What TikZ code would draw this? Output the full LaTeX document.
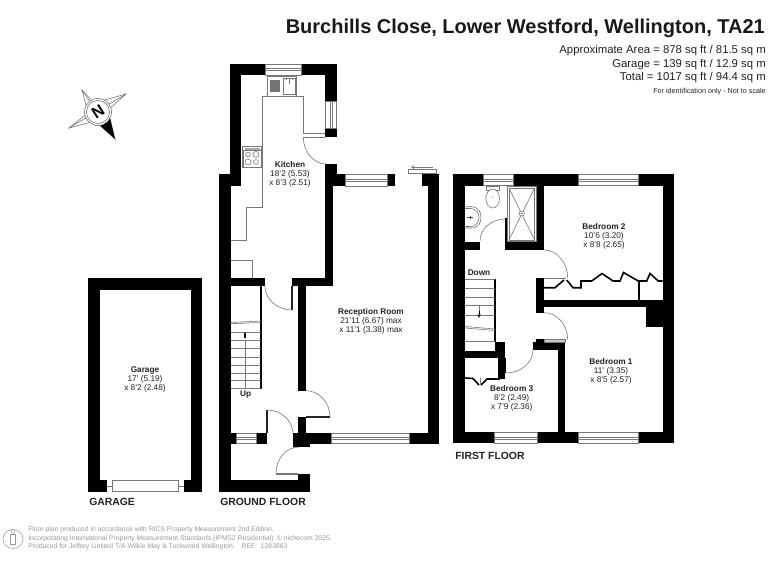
\documentclass[tikz,border=0pt]{standalone}
\usepackage{fontspec}
\setmainfont{Liberation Sans}
\usetikzlibrary{calc,arrows.meta}
\definecolor{fg}{HTML}{222222}
\definecolor{ln}{HTML}{777777}
\definecolor{foot}{HTML}{999999}
\newcommand\W[4]{\fill[black] (#1,#2) rectangle (#3,#4);}
\newcommand\WinH[4]{\draw[fitting,fill=white] (#1,#2) rectangle (#3,#4); \draw[fitting] (#1,{(#2+#4)/2-1}) -- (#3,{(#2+#4)/2-1}) (#1,{(#2+#4)/2+1}) -- (#3,{(#2+#4)/2+1});}
\newcommand\WinV[4]{\draw[fitting,fill=white] (#1,#2) rectangle (#3,#4); \draw[fitting] ({(#1+#3)/2-1},#2) -- ({(#1+#3)/2-1},#4) ({(#1+#3)/2+1},#2) -- ({(#1+#3)/2+1},#4);}
\newcommand\QArc[3]{\draw[fitting] (#1) .. controls ($(#1)!0.55!(#2)$) and ($(#3)!0.55!(#2)$) .. (#3);}
\newcommand\RoomLabel[6]{\node[roomhead] (#1) at (#2,#3) {#4}; \node[roomtext] (#1a) at (#2,#3+9) {#5}; \node[roomtext] (#1b) at (#2,#3+18) {#6};}
\tikzset{
  x=0.75pt,y=-0.75pt,
  fitting/.style={draw=ln,line width=0.45pt},
  leaf/.style={draw=black!85,line width=1.2pt},
  thick wall/.style={draw=black,line width=1.5pt,line join=miter},
  roomhead/.style={inner sep=0pt,text=fg,font=\fontsize{6.2}{7}\selectfont\bfseries},
  roomtext/.style={inner sep=0pt,text=fg,font=\fontsize{6.2}{7}\selectfont},
  floorlabel/.style={inner sep=0pt,anchor=west,text=fg,font=\fontsize{7.8}{9}\selectfont\bfseries},
  infotext/.style={inner sep=0pt,anchor=east,text=fg,font=\fontsize{8.5}{10}\selectfont},
  foottext/.style={inner sep=0pt,anchor=west,text=foot,font=\fontsize{5.1}{6}\selectfont},
}
\begin{document}
\begin{tikzpicture}
\useasboundingbox (0,0) rectangle (768,576);
\fill[white] (0,0) rectangle (768,576);

% ---------- title
\node[inner sep=0pt,anchor=east,text=black!90,font=\fontsize{15}{18}\selectfont\bfseries] (title) at (765,28) {Burchills Close, Lower Westford, Wellington, TA21};
\node[infotext] (area) at (766,51) {Approximate Area = 878 sq ft / 81.5 sq m};
\node[infotext] (garea) at (766,64.5) {Garage = 139 sq ft / 12.9 sq m};
\node[infotext] (total) at (766,78) {Total = 1017 sq ft / 94.4 sq m};
\node[infotext,font=\fontsize{5.4}{7}\selectfont] (ident) at (766,92) {For identification only - Not to scale};

% ---------- compass
\begin{scope}[shift={(98,112)}]
  \draw[fitting,fill=white] (-16,-22) -- (-4,-9) -- (28,-18) -- (10,-2) -- (17,27) -- (-3,9) -- (-29,16) -- (-10,1) -- cycle;
  \draw[fitting] (-16,-22) -- (17,27) (28,-18) -- (-29,16);
  \fill[black] (-3,9) -- (10,-2) -- (17,27) -- cycle;
  \draw[fitting,fill=white] (0,0) circle (13.5);
  \draw[fitting] (0,0) circle (11.5);
  \node[inner sep=0pt,rotate=33,font=\fontsize{12}{14}\selectfont\bfseries] (north) at (0,0) {N};
\end{scope}

% ---------- garage
\W{88.3}{278.3}{202.3}{290}
\W{88.3}{278.3}{100}{491.7}
\W{191}{278.3}{202.3}{491.7}
\W{88.3}{480}{107}{491.7}
\W{184}{480}{202.3}{491.7}
\draw[fitting] (107,486) -- (112.3,486) (178.7,486) -- (184,486);
\draw[fitting,fill=white] (112.3,480) rectangle (178.7,491.7);
\RoomLabel{garage}{145}{370}{Garage}{17' (5.19)}{x 8'2 (2.48)}
\node[floorlabel] (garagelbl) at (89,502) {GARAGE};

% ---------- ground floor walls
\W{230}{64}{336.7}{75}
\W{230}{64}{241}{186}
\W{219}{174}{241}{186}
\W{219}{174}{230.5}{491.5}
\W{325}{64}{336.7}{137}
\W{325}{164}{333}{286}
\W{325}{164}{336.7}{186}
\W{336.7}{174}{395}{186}
\W{422}{174}{439}{186}
\W{428}{174}{439}{443.5}
\W{230}{278}{265}{286}
\W{292}{278}{333}{286}
\W{298}{278}{306}{390.5}
\W{298}{417}{306}{446}
\W{293}{433}{439}{443.5}
\W{293}{443}{309.5}{447}
\W{230}{433}{266.5}{443.5}
\W{219}{480}{309.5}{491.5}
\W{298}{474}{309.5}{491.5}

% windows
\WinH{265}{64}{301}{75}
\WinV{325}{101}{336.7}{128}
\WinH{345}{174}{387}{186}
\WinH{331}{433}{409}{443.5}
\WinH{236}{433}{256}{443.5}

% sliding door symbol
\draw[fitting,fill=white] (408.7,169.3) rectangle (436,173.3);
\draw[fitting,-{Straight Barb[length=2pt,width=2.5pt]}] (433,167) -- (411,167);

% door leaves
\draw[leaf] (292,286) -- (292,310);
\draw[leaf] (306,417) -- (330,417);
\draw[leaf] (267,410) -- (267,433);
\draw[fitting] (303.3,133) -- (325,133) (303.3,137) -- (325,137);
\draw[fitting] (276,473) -- (298,473) (276,474.2) -- (298,474.2);

\QArc{265,286}{265,310}{292,310}
\QArc{303.3,137}{303.3,164}{326,164}
\QArc{306,390.7}{330,390.7}{330,417}
\QArc{267,410}{293,410}{293,434}
\QArc{276,473}{276,447}{299,447}

% kitchen fittings
\draw[fitting] (241,207) (303.3,133) -- (303.3,96.7) -- (262.7,96.7) -- (262.7,207) -- (246.7,207) -- (246.7,240) -- (230.5,240);
\draw[fitting] (230.5,260.7) -- (252.7,260.7) -- (252.7,278);
\draw[fitting,fill=white] (267.7,76.7) rectangle (296.7,96);
\fill[black!55] (270,80) rectangle (280,92);
\draw[fitting] (283,78) rectangle (295,94.5);
\draw[fitting] (286,78) -- (286,80) (292,78) -- (292,80) (289,78) -- (289,84);
\draw[fitting,fill=white] (242.7,146.7) rectangle (261.7,167);
\fill[black!35] (245,147.5) rectangle (260,149.5);
\draw[fitting] (243.5,150) rectangle (261,167);
\draw[fitting] (248,154.5) circle (2.4) (256,154.5) circle (3) (248,162) circle (3) (256,162) circle (2.4);

% ground stairs
\draw[thick wall] (260.7,286) -- (260.7,388.5);
\foreach \yy in {332,340,348,357,365,373,380,388} \draw[fitting] (230.5,\yy) -- (260.7,\yy);
\draw[fitting] (230.5,322.5) -- (260.7,321) (230.5,323.7) -- (260.7,322.5);
\draw[fitting] (245,340) -- (245,388);
\draw[black,line width=0.8pt] (245,333) -- (245,338);
\node[roomhead] (up) at (245.7,395) {Up};

\RoomLabel{kitchen}{290}{165}{Kitchen}{18'2 (5.53)}{x 8'3 (2.51)}
\RoomLabel{reception}{371}{312}{Reception Room}{21'11 (6.67) max}{x 11'1 (3.38) max}
\node[floorlabel] (groundlbl) at (220,502) {GROUND FLOOR};

% ---------- first floor walls
\W{453.3}{174.3}{674}{185.7}
\W{453.3}{174.3}{465}{443.3}
\W{662.7}{174.3}{674}{443.3}
\W{453.3}{432.3}{674}{443.3}
\W{536.7}{185}{544}{250}
\W{465}{241.7}{480}{250}
\W{505}{241.7}{544}{250}
\W{536}{278.3}{543.5}{312.5}
\W{536}{300}{663}{307.3}
\W{646}{300}{663}{327.3}
\W{465}{350.7}{505}{358.3}
\W{495}{342}{505}{358.3}
\W{533}{342.3}{565}{350}
\W{536}{339}{544}{343}
\W{558}{342}{565}{443}

% windows
\WinH{483}{174.3}{513}{185.7}
\WinH{578.7}{174.3}{638.7}{185.7}
\WinH{494}{432.3}{537}{443.3}
\WinH{578.7}{432.3}{638.7}{443.3}

% shower
\draw[fitting,fill=white] (507,186) rectangle (536.5,241.7);
\draw[fitting] (509,188) rectangle (534.5,240);
\draw[fitting] (509,188) -- (534.5,240) (534.5,188) -- (509,240);
\draw[fitting,fill=white] (521.7,213.5) circle (2.6);
\fill[black!70] (521.7,213.5) circle (0.9);

% toilet
\draw[fitting,fill=white] (486,186.5) rectangle (499,190);
\draw[fitting,fill=white] (492.7,198.5) ellipse [x radius=6.8,y radius=9.5];
\fill[black!60] (492.7,197) circle (0.5);

% basin
\draw[fitting,fill=white] (465,206.7) -- (472,206.7) .. controls (478,207) and (481,212) .. (481,217.5) .. controls (481,223) and (478,228) .. (472,228) -- (465,228);
\draw[fitting] (465,208.5) -- (471,208.5) .. controls (476,209) and (479,213) .. (479,217.5) .. controls (479,222) and (476,226) .. (471,226.5) -- (465,226.5);
\draw[black!70,line width=0.5pt] (467,217.5) -- (473,217.5) (470,216) -- (470,219);

% door thin wall & arcs
\draw[thick wall] (505.6,218) -- (505.6,242);
\draw[fitting] (504.5,358) -- (504.5,373) (501,358) -- (501,378);
\draw[thick wall] (505,358) -- (505,373);
\QArc{480,241}{480,219}{505,219}
\QArc{544,250}{567.7,250}{567.7,278}
\QArc{544,312.7}{567.7,312.7}{567.7,339.5}
\QArc{533,350}{533,373}{506,373}
\draw[fitting,fill=black!20] (544,339.5) rectangle (565,342);
\draw[fitting] (544,278.3) -- (566,278.3);

% first floor stairs
\draw[thick wall] (495,279) -- (495,342);
\foreach \yy in {279,288,297,305,315,341} \draw[fitting] (465,\yy) -- (495,\yy);
\draw[fitting] (465,326.5) -- (495,329) (465,328) -- (495,330.5);
\draw[fitting] (479,305) -- (479,312);
\draw[black,line width=0.7pt,-{Stealth[length=3pt,width=2.5pt]}] (479,311) -- (479,318);
\node[roomhead] (down) at (479,272.7) {Down};

% bedroom 3 closet
\W{498}{358}{505}{379}
\draw[thick wall,line width=1.2pt] (465,378) -- (473,378.5) -- (479,385);
\draw[thick wall,line width=1.2pt] (481,385) -- (487,379) -- (500,379);
\draw[fitting] (480.5,378) -- (480.5,384);

% bedroom 2 wardrobes
\draw[thick wall,line width=1.2pt] (544,287.7) -- (555,287.7) -- (564,280);
\draw[thick wall,line width=1.2pt] (566.7,280) -- (573,287.7) -- (581,287.7) -- (581,281) -- (591.7,281) -- (602,273.5) -- (613,281) -- (620,281) -- (623.5,272.5) -- (638.3,281) -- (646.7,281) -- (650,273.5) -- (658.3,281) -- (662.7,281);
\draw[thick wall] (639.3,281) -- (639.3,300);

\RoomLabel{bed2}{604}{227}{Bedroom 2}{10'6 (3.20)}{x 8'8 (2.65)}
\RoomLabel{bed1}{611}{362}{Bedroom 1}{11' (3.35)}{x 8'5 (2.57)}
\RoomLabel{bed3}{511.7}{389}{Bedroom 3}{8'2 (2.49)}{x 7'9 (2.36)}
\node[floorlabel] (firstlbl) at (455,456) {FIRST FLOOR};

% ---------- footer
\draw[foot,line width=0.4pt] (13,539) ellipse [x radius=10,y radius=9.5];
\draw[foot,line width=0.4pt] (13,531.5) circle (2);
\draw[foot,line width=0.4pt] (10.5,534.5) rectangle (15.5,544);
\node[foottext] (foot1) at (28,530) {Floor plan produced in accordance with RICS Property Measurement 2nd Edition,};
\node[foottext] (foot2) at (28,538.5) {Incorporating International Property Measurement Standards (IPMS2 Residential).};
\node[foottext] (foot3) at (28,547) {Produced for Jeffrey Limited T/A Wilkie May \& Tuckwood Wellington.\quad REF:\ \ 1283863};
\node[foottext,anchor=east] (foot4) at (332,538.5) {© nichecom 2025.};
\end{tikzpicture}
\end{document}
